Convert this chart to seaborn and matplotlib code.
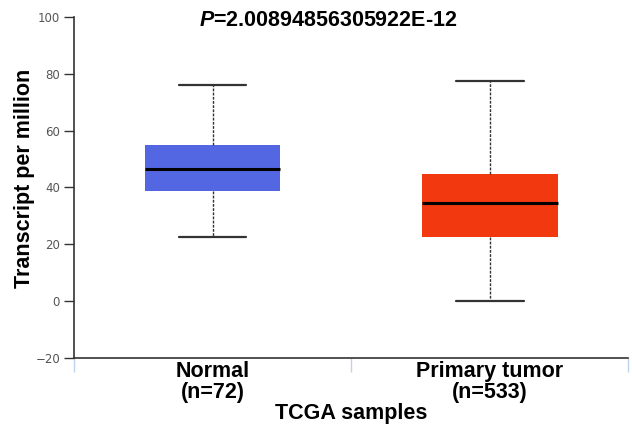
import matplotlib
matplotlib.use('Agg')
import matplotlib.pyplot as plt
import seaborn as sns
import pandas as pd

# box statistics: lower whisker, Q1, median, Q3, upper whisker
groups = ['Normal\n(n=72)', 'Primary tumor\n(n=533)']
normal_stats = [22.5, 38.8, 46.6, 55.0, 76.2]
tumor_stats = [0.0, 22.4, 34.4, 44.7, 77.6]
box_colors = ['#5467E2', '#F2380F']
p_value = '2.00894856305922E-12'

# five points per group reproduce the five-number summary exactly
df = pd.DataFrame({
    'group': [groups[0]] * 5 + [groups[1]] * 5,
    'tpm': normal_stats + tumor_stats,
})

sns.set_style('white')
plt.rcParams['font.family'] = ['Liberation Sans', 'DejaVu Sans']
plt.rcParams['text.color'] = 'black'
plt.rcParams['mathtext.fontset'] = 'custom'
plt.rcParams['mathtext.bfit'] = 'Liberation Sans:italic:bold'

fig = plt.figure(figsize=(6.32, 4.28), dpi=100)
ax = fig.add_axes([0.117, 0.164, 0.877, 0.796])

sns.boxplot(x='group', y='tpm', data=df, order=groups, hue='group',
            palette=box_colors, saturation=1, legend=False, width=0.49,
            whis=(0, 100), linewidth=0, showfliers=False,
            boxprops=dict(edgecolor='none'),
            medianprops=dict(color='black', linewidth=2.2),
            whiskerprops=dict(color='#333333', linewidth=1, linestyle=(0, (2, 1))),
            capprops=dict(color='#333333', linewidth=1.6),
            capwidths=0.245, ax=ax)

ax.set_xlim(-0.5, 1.5)
ax.set_ylim(-20, 100)
ax.set_yticks([-20, 0, 20, 40, 60, 80, 100])
ax.tick_params(axis='y', colors='#333333', labelcolor='#555555', labelsize=8.5,
               direction='out', length=7, width=1, left=True, pad=3)
for lab in ax.get_yticklabels():
    lab.set_fontfamily('DejaVu Sans')

# category separators below the axis, labels at band centres
ax.set_xticks([-0.5, 0.5, 1.5])
ax.set_xticklabels(['', '', ''])
ax.tick_params(axis='x', which='major', colors='#BFD3EA', direction='out', length=10, width=1, bottom=True)
ax.set_xticks([0, 1], minor=True)
ax.set_xticklabels(groups, minor=True, fontsize=15.5, fontweight='bold', color='black',
                   linespacing=1.05)
ax.tick_params(axis='x', which='minor', length=0, pad=2)

for s in ['top', 'right']:
    ax.spines[s].set_visible(False)
for s in ['left', 'bottom']:
    ax.spines[s].set_color('#333333')
    ax.spines[s].set_linewidth(1.2)

ax.set_xlabel('')
ax.set_ylabel('')
fig.text(0.555, 1 - 413 / 428, 'TCGA samples', fontsize=15.5, fontweight='bold',
         ha='center', va='center')
fig.text(25 / 632, 1 - 178 / 428, 'Transcript per million', fontsize=15.5,
         fontweight='bold', rotation=90, ha='center', va='center')
fig.text(328 / 632, 1 - 20 / 428, r'$\mathbfit{P}$' + '=' + p_value, fontsize=15.5,
         fontweight='bold', ha='center', va='center')

plt.savefig('out.png', dpi=100)
